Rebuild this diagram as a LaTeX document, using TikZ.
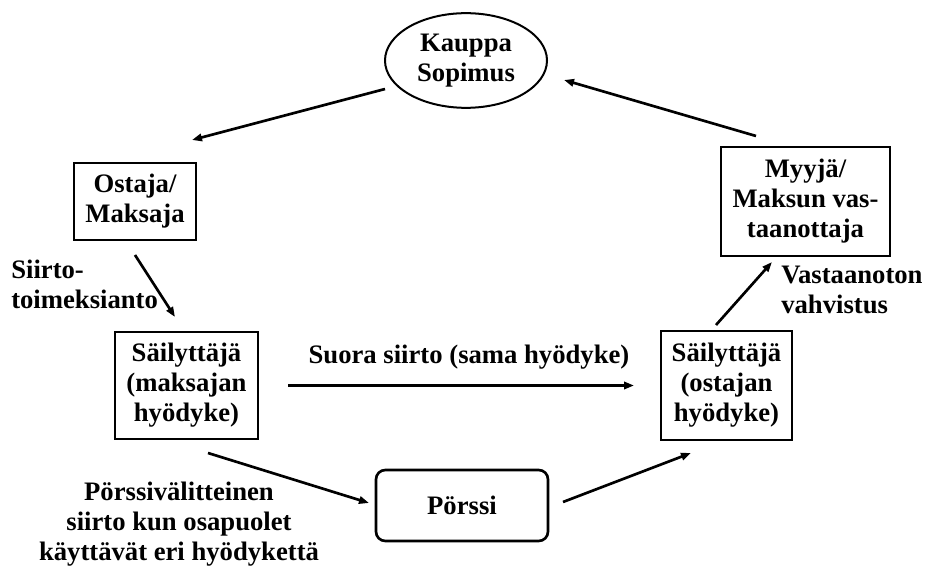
\documentclass[tikz,border=0pt]{standalone}
\usepackage{fontspec}
\setmainfont{Liberation Serif}
\usetikzlibrary{arrows.meta,positioning,shapes.geometric}

\tikzset{
  box/.style={draw,line width=1.5pt,align=center,inner sep=2pt},
  arr/.style={-{Triangle[length=7.5pt,width=5.5pt]},line width=2pt},
  lbl/.style={inner sep=0pt}
}

\begin{document}
\begin{tikzpicture}[x=0.75pt,y=-0.75pt,font=\fontsize{20}{22.5}\selectfont\bfseries]
  \useasboundingbox (0,0) rectangle (925,570);

  % nodes
  \node[box,ellipse,minimum width=121.5pt,minimum height=71pt] (kauppa) at (466,60.5) {Kauppa\\Sopimus};
  \node[box,minimum width=91.5pt,minimum height=57.75pt] (ostaja) at (135,201.5) {Ostaja/\\Maksaja};
  \node[box,minimum width=126.75pt,minimum height=81.75pt] (myyja) at (805.5,201.5) {Myyjä/\\Maksun vas-\\taanottaja};
  \node[box,minimum width=107.25pt,minimum height=80.25pt] (sail1) at (186.5,385.5) {Säilyttäjä\\(maksajan\\hyödyke)};
  \node[box,minimum width=98.25pt,minimum height=81pt] (sail2) at (726.5,385.5) {Säilyttäjä\\(ostajan\\hyödyke)};
  \node[box,line width=2pt,rounded corners=7pt,minimum width=129pt,minimum height=53.25pt] (porssi) at (462,505.5) {Pörssi};

  % arrow ends
  \coordinate (k1) at (385,89);   \coordinate (o1) at (192,140);
  \coordinate (m1) at (756,136);  \coordinate (k2) at (564,80);
  \coordinate (o2) at (135,255);  \coordinate (s1a) at (175,317);
  \coordinate (s1c) at (208,453); \coordinate (p1) at (369,503);
  \coordinate (p2) at (563,502);  \coordinate (s2b) at (691,453);
  \coordinate (s2c) at (716,325); \coordinate (m2) at (772,262);

  \draw[arr] (k1) -- (o1);
  \draw[arr] (m1) -- (k2);
  \draw[arr] (o2) -- (s1a);
  \draw[arr,shorten <=21.75pt,shorten >=19.5pt] (sail1) -- (sail2);
  \draw[arr] (s1c) -- (p1);
  \draw[arr] (p2) -- (s2b);
  \draw[arr] (s2c) -- (m2);

  % labels
  \node[lbl,anchor=west,align=left] (siirto) at (11,284) {Siirto-\\toimeksianto};
  \node[lbl,anchor=west,align=left] (vast) at (781,290) {Vastaanoton\\vahvistus};
  \node[lbl] (suora) at (469,357) {Suora siirto (sama hyödyke)};
  \node[lbl,align=center] (valit) at (179,524) {Pörssivälitteinen\\siirto kun osapuolet\\käyttävät eri hyödykettä};
\end{tikzpicture}
\end{document}
